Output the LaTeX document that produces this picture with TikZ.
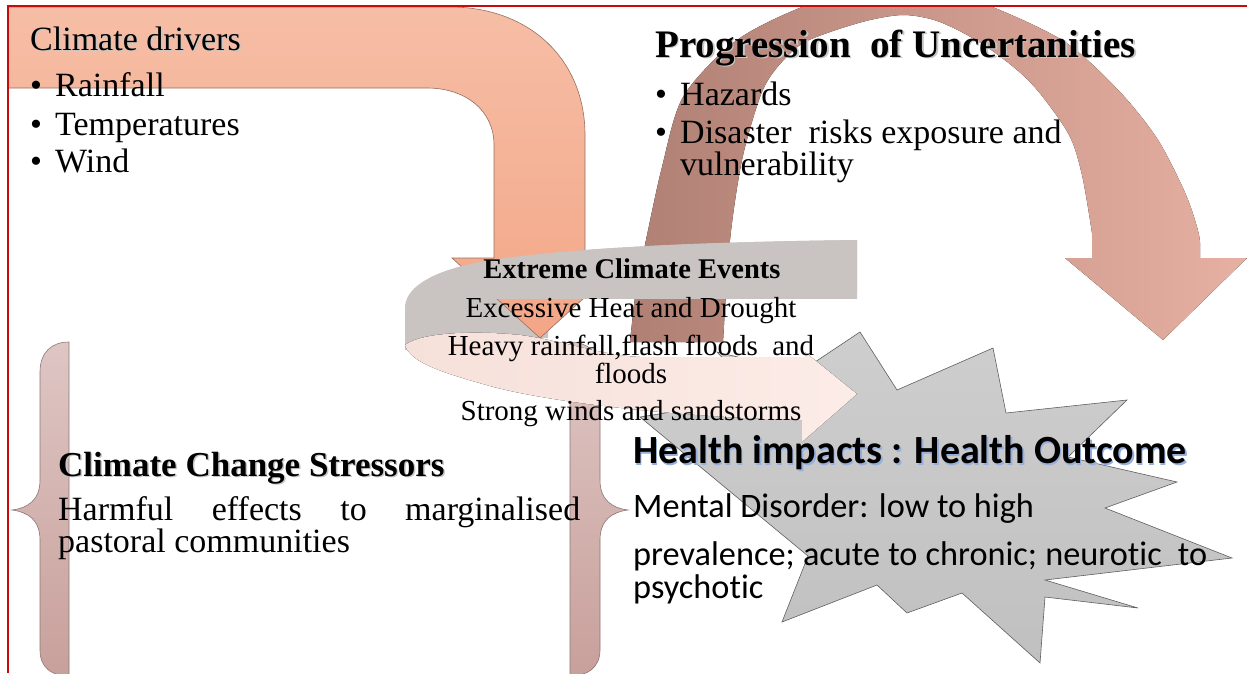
\documentclass[tikz,border=0pt]{standalone}
\usepackage{fontspec}
\setmainfont{Liberation Serif}
\newfontfamily\calibri[Ligatures={NoCommon}]{Carlito}
\definecolor{orangeTop}{RGB}{246,190,166}
\definecolor{orangeBot}{RGB}{243,166,134}
\definecolor{orangeEdge}{RGB}{150,110,95}
\definecolor{brownL}{RGB}{176,128,116}
\definecolor{brownR}{RGB}{230,176,162}
\definecolor{ribGray}{RGB}{201,196,194}
\definecolor{ribPinkL}{RGB}{246,224,218}
\definecolor{ribPinkR}{RGB}{252,236,231}
\definecolor{braceTop}{RGB}{222,198,196}
\definecolor{braceBot}{RGB}{200,160,155}
\definecolor{braceEdge}{RGB}{140,120,118}
\definecolor{starTop}{RGB}{206,206,206}
\definecolor{starBot}{RGB}{192,192,192}
\definecolor{starEdge}{RGB}{95,95,95}
\definecolor{frameRed}{RGB}{200,10,10}
\definecolor{shadowBlue}{RGB}{150,175,220}
\tikzset{
  txt/.style={inner sep=0pt, anchor=base west},
  ctxt/.style={inner sep=0pt, anchor=base},
  serifbig/.style={font=\fontsize{34}{38}\selectfont},
  serifmid/.style={font=\fontsize{29}{32}\selectfont},
  shadowtxt/.style={text=black!22},
}
\begin{document}
\begin{tikzpicture}[x=1pt,y=-1pt]
\useasboundingbox (0,0) rectangle (1247,673);
\begin{scope}
\clip (0,6) rectangle (1247,673);
% brown curved arrow (Progression)
\fill[left color=brownL, right color=brownR]
  plot[smooth] coordinates {(630,342) (636,290) (646,240) (662,167) (683,97) (733,43) (790,12) (860,-12) (930,-12) (990,6) (1065,42) (1120,92) (1158,140) (1186,195) (1199,235) (1200,258)}
  -- (1247,258) -- (1163,340) -- (1065,258) -- (1092,258)
  -- plot[smooth] coordinates {(1092,233) (1082,175) (1068,133) (1030,82) (984,45) (940,22) (905,15) (870,20) (830,32) (800,45) (775,70) (760,97) (742,160) (730,240) (723,342)}
  -- cycle;
% braces
\draw[braceEdge, line width=0.6pt, top color=braceTop, bottom color=braceBot]
  (69,342) .. controls (52,342) and (40,352) .. (40,372) -- (40,480)
  .. controls (40,500) and (28,508) .. (12,510) .. controls (28,512) and (40,520) .. (40,540)
  -- (40,650) .. controls (40,668) and (52,676) .. (69,676) -- cycle;
\draw[braceEdge, line width=0.6pt, top color=braceTop, bottom color=braceBot]
  (570,342) .. controls (587,342) and (600,352) .. (600,372) -- (600,480)
  .. controls (600,500) and (612,508) .. (628,510) .. controls (612,512) and (600,520) .. (600,540)
  -- (600,650) .. controls (600,668) and (587,676) .. (570,676) -- cycle;
% gray ribbon (back part)
\fill[ribGray] (857,240) .. controls (700,242) and (560,248) .. (480,262)
  .. controls (425,273) and (405,290) .. (405,308) -- (405,350) -- (480,340) -- (548,338)
  .. controls (548,315) and (560,298) .. (600,296) -- (857,292) -- cycle;
% orange bent arrow (Climate drivers)
\draw[orangeEdge, line width=0.6pt, top color=orangeTop, bottom color=orangeBot]
  (8,7) -- (450,7) .. controls (530,7) and (585,60) .. (585,135) -- (585,258)
  -- (628,258) -- (540,338) -- (452,258) -- (494,258) -- (494,145)
  .. controls (494,110) and (465,88) .. (427,88) -- (8,88) -- cycle;
% gray ribbon top band in front of the orange arrow
\begin{scope}
\clip (430,0) rectangle (860,298);
\fill[ribGray] (857,240) .. controls (700,242) and (560,248) .. (480,262)
  .. controls (425,273) and (405,290) .. (405,308) -- (405,350) -- (857,350) -- cycle;
\end{scope}
% starburst (Health impacts)
\draw[starEdge, line width=0.6pt, top color=starTop, bottom color=starBot]
  (860,332) -- (897,390) -- (993,348) -- (1006,413) -- (1127,400) -- (1068,457)
  -- (1177,482) -- (1105,508) -- (1232,558) -- (1045,580) -- (1138,608) -- (1045,597)
  -- (1040,663) -- (962,593) -- (907,613) -- (877,585) -- (782,622) -- (808,556)
  -- (640,417) -- (760,398) -- (717,352) -- (800,372) -- cycle;
% pink front band with arrowhead
\fill[left color=ribPinkL, right color=ribPinkR]
  (405,345) .. controls (420,333) and (470,330) .. (520,335)
  .. controls (560,340) and (600,355) .. (640,357) -- (805,357) -- (805,352)
  -- (857,394) -- (802,442) -- (802,420)
  .. controls (700,418) and (560,405) .. (490,386)
  .. controls (440,372) and (410,362) .. (405,345) -- cycle;
\end{scope}
% red frame
\draw[frameRed, line width=2.2pt] (8,673) -- (8,6) -- (1247,6);
% ---- texts ----
% Climate drivers
\node[txt, serifbig, shadowtxt] (cdS) at (31.5,51.5) {Climate drivers};
\node[txt, serifbig] (cd) at (30,50) {Climate drivers};
\node[txt, serifbig] (b1) at (30,96) {\textbullet};
\node[txt, serifbig] (rain) at (55,96) {Rainfall};
\node[txt, serifbig] (b2) at (30,135) {\textbullet};
\node[txt, serifbig] (temp) at (55,135) {Temperatures};
\node[txt, serifbig] (b3) at (30,172) {\textbullet};
\node[txt, serifbig] (wind) at (55,172) {Wind};
% Progression of uncertainties
\node[txt, font=\fontsize{39}{42}\selectfont\bfseries, shadowtxt] (puS) at (656.5,58.5) {Progression~ of Uncertanities};
\node[txt, font=\fontsize{39}{42}\selectfont\bfseries] (pu) at (655,57) {Progression~ of Uncertanities};
\node[txt, serifbig] (b4) at (655,105) {\textbullet};
\node[txt, serifbig] (haz) at (680,105) {Hazards};
\node[txt, serifbig] (b5) at (655,143) {\textbullet};
\node[txt, serifbig] (dis1) at (680,143) {Disaster~ risks exposure and};
\node[txt, serifbig] (dis2) at (680,175) {vulnerability};
% Extreme climate events
\node[ctxt, font=\fontsize{28.5}{30}\selectfont\bfseries] (ece) at (632,278) {Extreme Climate Events};
\node[ctxt, serifmid] (e1) at (631,317) {Excessive Heat and Drought};
\node[ctxt, serifmid] (e2) at (631,355) {Heavy rainfall,flash floods~ and};
\node[ctxt, serifmid] (e3) at (631,383) {floods};
\node[ctxt, serifmid] (e4) at (631,420) {Strong winds and sandstorms};
% Climate change stressors
\node[txt, font=\fontsize{35}{38}\selectfont\bfseries, shadowtxt] (ccsS) at (59.5,477.5) {Climate Change Stressors};
\node[txt, font=\fontsize{35}{38}\selectfont\bfseries] (ccs) at (58,476) {Climate Change Stressors};
\node[txt, serifbig] (h1) at (58,520) {\makebox[522pt][s]{Harmful effects to marginalised}};
\node[txt, serifbig] (h2) at (58,552) {pastoral communities};
% Health impacts
\node[txt, font=\fontsize{40}{42}\selectfont\calibri\bfseries, text=shadowBlue] (hiS) at (634.5,465) {Health impacts : Health Outcome};
\node[txt, font=\fontsize{40}{42}\selectfont\calibri\bfseries] (hi) at (633,463) {Health impacts : Health Outcome};
\node[txt, font=\fontsize{34.3}{38}\selectfont\calibri] (m1) at (633,517) {Mental Disorder: low to high};
\node[txt, font=\fontsize{34.3}{38}\selectfont\calibri] (m2) at (633,565) {\makebox[574pt][s]{prevalence; acute to chronic; neurotic~ to}};
\node[txt, font=\fontsize{34.3}{38}\selectfont\calibri] (m3) at (633,598) {psychotic};
\end{tikzpicture}
\end{document}
